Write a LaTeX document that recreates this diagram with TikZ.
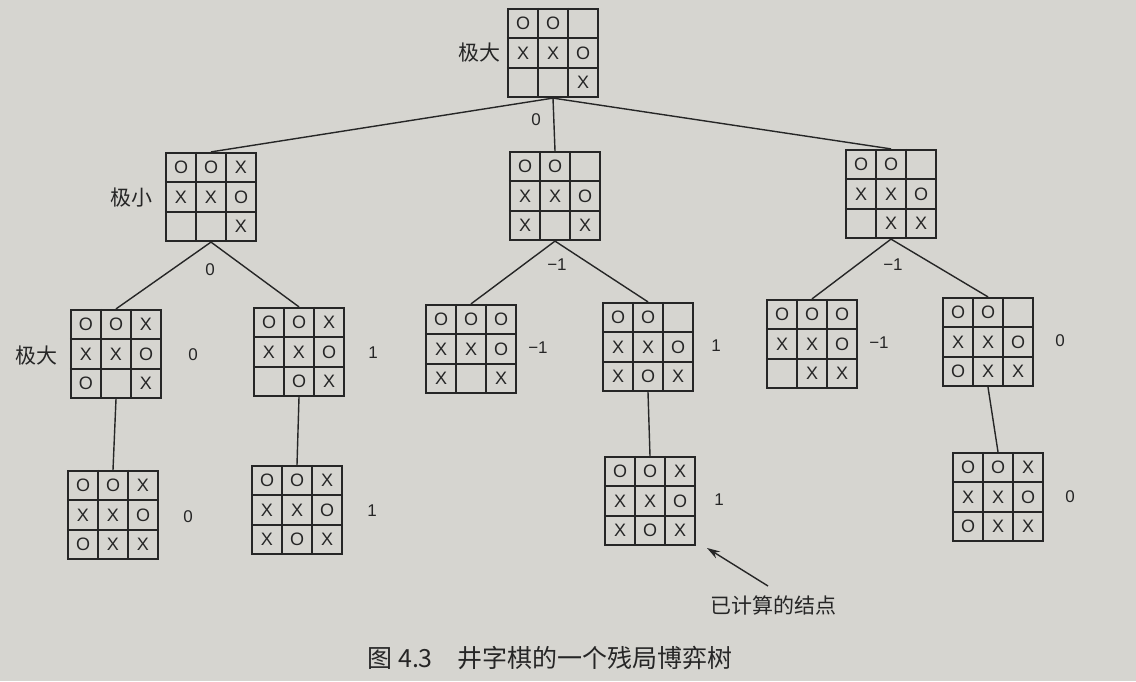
\documentclass[tikz,border=0pt]{standalone}
\usepackage{fontspec}
\setmainfont{Liberation Sans}
\newfontfamily\cjk{Noto Sans CJK SC}
\usetikzlibrary{calc,arrows.meta}
\definecolor{paper}{RGB}{214,213,208}
\definecolor{ink}{RGB}{38,38,38}
\tikzset{
  board/.style={draw=ink, line width=2.2pt, minimum width=90pt, minimum height=88pt, inner sep=0pt},
  gridline/.style={draw=ink, line width=1.8pt},
  cellmark/.style={font=\fontsize{18}{18}\selectfont, text=ink, inner sep=0pt},
  val/.style={font=\fontsize{17}{17}\selectfont, text=ink, inner sep=1pt},
  lab/.style={font=\cjk\fontsize{21}{21}\selectfont, text=ink, inner sep=1pt},
  edge/.style={draw=ink, line width=1.4pt},
}
\newcommand\tttboard[3]{%
  \node[board] (#1) at (#2) {};
  \draw[gridline] ($(#1.north west)!1/3!(#1.north east)$) -- ($(#1.south west)!1/3!(#1.south east)$);
  \draw[gridline] ($(#1.north west)!2/3!(#1.north east)$) -- ($(#1.south west)!2/3!(#1.south east)$);
  \draw[gridline] ($(#1.north west)!1/3!(#1.south west)$) -- ($(#1.north east)!1/3!(#1.south east)$);
  \draw[gridline] ($(#1.north west)!2/3!(#1.south west)$) -- ($(#1.north east)!2/3!(#1.south east)$);
  \foreach \m [count=\i from 0] in {#3} {
    \pgfmathtruncatemacro\col{mod(\i,3)}
    \pgfmathtruncatemacro\row{div(\i,3)}
    \node[cellmark] (#1-\i) at ($(#2)+({(\col-1)*30},{(\row-1)*29.33})$) {\m};
  }
}
\begin{document}
\begin{tikzpicture}[x=1pt,y=-1pt]
\path[fill=paper] (0,0) rectangle (1136,681);
\useasboundingbox (0,0) rectangle (1136,681);

% boards
\tttboard{root}{553,53}{O,O,,X,X,O,,,X}
\tttboard{La}{211,197}{O,O,X,X,X,O,,,X}
\tttboard{Lb}{555,196}{O,O,,X,X,O,X,,X}
\tttboard{Lc}{891,194}{O,O,,X,X,O,,X,X}
\tttboard{aA}{116,354}{O,O,X,X,X,O,O,,X}
\tttboard{aB}{299,352}{O,O,X,X,X,O,,O,X}
\tttboard{bA}{471,349}{O,O,O,X,X,O,X,,X}
\tttboard{bB}{648,347}{O,O,,X,X,O,X,O,X}
\tttboard{cA}{812,344}{O,O,O,X,X,O,,X,X}
\tttboard{cB}{988,342}{O,O,,X,X,O,O,X,X}
\tttboard{aAc}{113,515}{O,O,X,X,X,O,O,X,X}
\tttboard{aBc}{297,510}{O,O,X,X,X,O,X,O,X}
\tttboard{bBc}{650,501}{O,O,X,X,X,O,X,O,X}
\tttboard{cBc}{998,497}{O,O,X,X,X,O,O,X,X}

% edges
\draw[edge] (root.south) -- (La.north);
\draw[edge] (root.south) -- (Lb.north);
\draw[edge] (root.south) -- (Lc.north);
\draw[edge] (La.south) -- (aA.north);
\draw[edge] (La.south) -- (aB.north);
\draw[edge] (Lb.south) -- (bA.north);
\draw[edge] (Lb.south) -- (bB.north);
\draw[edge] (Lc.south) -- (cA.north);
\draw[edge] (Lc.south) -- (cB.north);
\draw[edge] (aA.south) -- (aAc.north);
\draw[edge] (aB.south) -- (aBc.north);
\draw[edge] (bB.south) -- (bBc.north);
\draw[edge] (cB.south) -- (cBc.north);

% labels
\node[lab] (lroot) at (479,53) {极大};
\node[lab] (lLa) at (131,198) {极小};
\node[lab] (laA) at (37,356) {极大};

% values
\node[val] (vroot) at (536,120) {0};
\node[val] (vLa) at (210,270) {0};
\node[val] (vLb) at (557,265) {−1};
\node[val] (vLc) at (893,265) {−1};
\node[val] (vaA) at (193,355) {0};
\node[val] (vaB) at (373,353) {1};
\node[val] (vbA) at (538,348) {−1};
\node[val] (vbB) at (716,346) {1};
\node[val] (vcA) at (879,343) {−1};
\node[val] (vcB) at (1060,341) {0};
\node[val] (vaAc) at (188,517) {0};
\node[val] (vaBc) at (372,511) {1};
\node[val] (vbBc) at (719,500) {1};
\node[val] (vcBc) at (1070,497) {0};

% annotation arrow
\coordinate (arrowtail) at (768,586);
\coordinate (arrowtip) at (707,548);
\draw[edge, -{Stealth[length=13pt,width=8pt]}] (arrowtail) -- (arrowtip);
\node[font=\cjk\fontsize{21}{21}\selectfont, text=ink] (note) at (773,605) {已计算的结点};

% caption
\node[font=\cjk\fontsize{25}{25}\selectfont, text=ink, anchor=west] (caption) at (364,658) {图 4.3\hspace{1em}井字棋的一个残局博弈树};
\end{tikzpicture}
\end{document}
